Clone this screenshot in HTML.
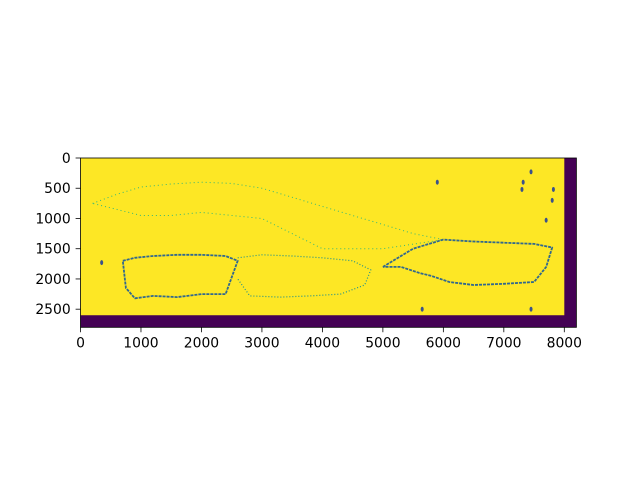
<!DOCTYPE html>
<html><head><meta charset="utf-8"><style>
body{margin:0;background:#fff;}
svg{display:block;font-family:"DejaVu Sans","Liberation Sans",sans-serif;}
</style></head><body>
<svg id="chart" width="640" height="480">
<g id="plot"></g>
</svg>
<script>
const xTicks=[0,1000,2000,3000,4000,5000,6000,7000,8000];
const yTicks=[0,500,1000,1500,2000,2500];
const imgW=[8200];
const imgH=[2800];
const validW=[8000];
const validH=[2600];
const lowerLeftX=[700,900,1200,1600,2000,2400,2600,2400,2000,1600,1200,900,750,700];
const lowerLeftY=[1700,1650,1620,1600,1600,1620,1700,2250,2250,2300,2280,2320,2150,1700];
const midX=[2600,3000,3500,4000,4500,4800,4700,4300,3800,3300,2800,2600];
const midY=[1650,1600,1620,1650,1700,1850,2100,2250,2280,2300,2280,2000];
const rightX=[5000,5500,6000,6500,7000,7500,7800,7700,7500,7000,6500,6100,5800,5600,5300,5000];
const rightY=[1800,1500,1350,1380,1400,1420,1480,1800,2050,2080,2100,2050,1950,1900,1800,1800];
const upperX=[200,600,1000,1500,2000,2500,3000,3500,4000,4500,5000,5500,6000,5000,4000,3000,2000,1500,1000,600,200];
const upperY=[750,600,480,430,400,420,500,650,800,950,1100,1250,1350,1500,1500,1000,900,950,950,850,750];
const dotX=[350,7450,7320,7300,7820,7800,7700,5650,7450,5900];
const dotY=[1730,230,400,520,520,700,1030,2500,2500,400];
const NS='http://www.w3.org/2000/svg';
const L=80.5,T=158,k=(564.3-80.5)/8000;
const sx=v=>L+v*k, sy=v=>T+v*k;
const g=document.getElementById('plot');
function mk(t,a){const e=document.createElementNS(NS,t);for(const n in a)e.setAttribute(n,a[n]);g.appendChild(e);return e;}
let e;
e=mk('rect',{x:sx(0),y:sy(0),width:sx(imgW[0])-sx(0),height:sy(imgH[0])-sy(0),fill:'#440154'});


e=mk('rect',{x:sx(0),y:sy(0),width:sx(validW[0])-sx(0),height:sy(validH[0])-sy(0),fill:'#fde725'});


function poly(xs,ys,name,col,w,dash){
 const p=xs.map((x,i)=>sx(x).toFixed(1)+','+sy(ys[i]).toFixed(1)).join(' ');
 e=mk('polyline',{points:p,fill:'none',stroke:col,'stroke-width':w,'stroke-dasharray':dash,'stroke-linejoin':'round'});
 
 
}
poly(upperX,upperY,'upper-outline','#35b779',1,'1 3');
poly(lowerLeftX,lowerLeftY,'left-blob-outline','#31688e',1.8,'3 1');
poly(midX,midY,'middle-blob-outline','#21918c',1.2,'1 2');
poly(rightX,rightY,'right-blob-outline','#31688e',1.8,'3 1');
dotX.forEach((x,i)=>{
 e=mk('ellipse',{cx:sx(x),cy:sy(dotY[i]),rx:1.5,ry:2.5,fill:'#3b528b'});
 
 
});
e=mk('rect',{x:sx(0),y:sy(0),width:sx(imgW[0])-sx(0),height:sy(imgH[0])-sy(0),fill:'none',stroke:'#000','stroke-width':0.8});


xTicks.forEach(v=>{
 const x=sx(v),y=sy(imgH[0]);
 e=mk('line',{x1:x,x2:x,y1:y,y2:y+4.9,stroke:'#000','stroke-width':0.8});
 
 
 e=mk('text',{x:x,y:y+20,'text-anchor':'middle','font-size':13.9,fill:'#000'});e.textContent=v;
 
 
});
yTicks.forEach(v=>{
 const y=sy(v),x=sx(0);
 e=mk('line',{x1:x,x2:x-4.9,y1:y,y2:y,stroke:'#000','stroke-width':0.8});
 
 
 e=mk('text',{x:x-9.8,y:y+5,'text-anchor':'end','font-size':13.9,fill:'#000'});e.textContent=v;
 
 
});
</script>
</body></html>
